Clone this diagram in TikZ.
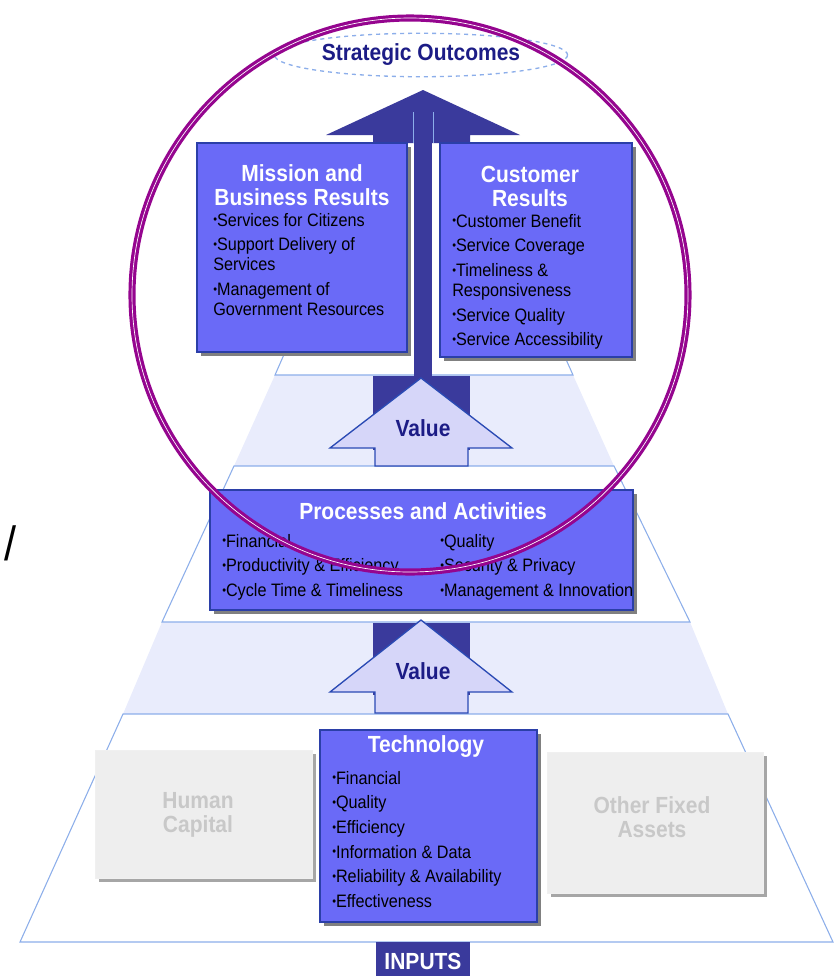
\documentclass[tikz,border=0pt]{standalone}
\usepackage{fontspec}
\setmainfont{Liberation Sans}[FakeStretch = 0.9]
\usetikzlibrary{positioning,fit,shapes.geometric,shadows}

\definecolor{boxblue}{HTML}{6A6AF7}
\definecolor{boxedge}{HTML}{2B3FA8}
\definecolor{darkarrow}{HTML}{3A3A9C}
\definecolor{valuefill}{HTML}{D6D6F9}
\definecolor{valueedge}{HTML}{2A4AB4}
\definecolor{bandline}{HTML}{8CAEEA}
\definecolor{bandshade}{HTML}{E9ECFC}
\definecolor{ringpurple}{HTML}{95058F}
\definecolor{navytext}{HTML}{1C1C86}
\definecolor{assetgrey}{HTML}{EEEEEE}
\definecolor{greytext}{HTML}{C8C8C8}

\newcommand{\bul}{\raisebox{0.25ex}{\fontsize{9}{9}\selectfont •}}

\tikzset{
  resultbox/.style = {fill = boxblue, draw = boxedge, line width = 1pt, inner sep = 0pt,
    drop shadow = {shadow xshift = 3pt, shadow yshift = -3pt, fill = black!50, opacity = 1}},
  assetbox/.style = {fill = assetgrey, draw = black!6, inner sep = 0pt,
    drop shadow = {shadow xshift = 3pt, shadow yshift = -3pt, fill = black!35, opacity = 1}},
  boxtitle/.style = {text = white, font = \bfseries\fontsize{17.5}{18}\selectfont, align = center, inner sep = 0pt},
  assettitle/.style = {text = greytext, font = \bfseries\fontsize{17.5}{18.5}\selectfont, align = center, inner sep = 0pt},
  itemlist/.style = {text = black, font = \fontsize{13.5}{15}\selectfont, align = left, anchor = north west, inner sep = 0pt},
  band/.style = {fill = white, draw = bandline, line width = 0.8pt},
  shadeband/.style = {fill = bandshade},
  darkpart/.style = {fill = darkarrow},
  valuearrow/.style = {fill = valuefill, draw = valueedge, line width = 1pt},
  valuetext/.style = {text = navytext, font = \bfseries\fontsize{17.5}{18}\selectfont, inner sep = 0pt},
  ring/.style = {draw = ringpurple, line width = 2.4pt, double = white, double distance = 0.5pt}
}

\begin{document}
\begin{tikzpicture}[x = 0.75pt, y = -0.75pt]
\useasboundingbox (0,0) rectangle (834,976);

\fill[shadeband] (275,375) -- (573,375) -- (614,466) -- (234,466) -- cycle;
\fill[shadeband] (162,622) -- (690,622) -- (728,714) -- (123,714) -- cycle;
\draw[band] (376,145) -- (275,375) -- (573,375) -- (470,145);
\draw[band] (234,466) -- (614,466) -- (690,622) -- (162,622) -- cycle;
\draw[band] (123,714) -- (728,714) -- (833,942) -- (20,942) -- cycle;

\fill[darkpart] (423,90) -- (520,135) -- (470,135) -- (470,143) -- (373,143) -- (373,135) -- (326,135) -- cycle;
\fill[darkpart] (373,376) rectangle (470,450);
\fill[darkpart] (373,623) rectangle (470,695);
\fill[darkpart] (414,110) rectangle (432,382);
\draw[bandline, line width = 0.6pt] (413,112) -- (413,143) (433,112) -- (433,143);

\draw[valuearrow] (421,378) -- (512,448) -- (468,448) -- (468,466) -- (375,466) -- (375,448) -- (330,448) -- cycle;
\draw[valuearrow] (421,620) -- (512,692) -- (468,692) -- (468,713) -- (375,713) -- (375,692) -- (330,692) -- cycle;
\node[valuetext] (value1) at (423,428) {Value};
\node[valuetext] (value2) at (423,671) {Value};

\node[ellipse, draw = bandline, dashed, line width = 1pt, fill = white, minimum width = 174pt, minimum height = 31pt,
  font = \bfseries\fontsize{17.5}{18}\selectfont, text = navytext] (outcomes) at (421,55) {Strategic Outcomes};

\node[resultbox, fit = {(197,143) (407,352)}] (mission) {};
\node[boxtitle] (missiontitle) at (302,185) {Mission and\\Business Results};
\node[itemlist] (missionitems) at (213,213) {\bul Services for Citizens\\[3.5pt]\bul Support Delivery of\\Services\\[3.5pt]\bul Management of\\Government Resources};

\node[resultbox, fit = {(440,143) (632,357)}] (customer) {};
\node[boxtitle] (customertitle) at (530,186) {Customer\\Results};
\node[itemlist] (customeritems) at (452,214) {\bul Customer Benefit\\[3.5pt]\bul Service Coverage\\[3.5pt]\bul Timeliness \&\\Responsiveness\\[3.5pt]\bul Service Quality\\[3.5pt]\bul Service Accessibility};

\node[resultbox, fit = {(210,490) (633,610)}] (processes) {};
\node[boxtitle] (processestitle) at (423,511) {Processes and Activities};
\node[itemlist] (processesleft) at (222,534) {\bul Financial\\[3.5pt]\bul Productivity \& Efficiency\\[3.5pt]\bul Cycle Time \& Timeliness};
\node[itemlist] (processesright) at (440,534) {\bul Quality\\[3.5pt]\bul Security \& Privacy\\[3.5pt]\bul Management \& Innovation};

\node[assetbox, fit = {(95,750) (312,878)}] (human) {};
\node[assettitle] (humantitle) at (198,815) {Human\\Capital};
\node[assetbox, fit = {(547,752) (763,893)}] (fixed) {};
\node[assettitle] (fixedtitle) at (652,817) {Other Fixed\\Assets};

\node[resultbox, fit = {(320,730) (537,922)}] (technology) {};
\node[boxtitle] (technologytitle) at (426,747) {Technology};
\node[itemlist] (technologyitems) at (332,771) {\bul Financial\\[3.5pt]\bul Quality\\[3.5pt]\bul Efficiency\\[3.5pt]\bul Information \& Data\\[3.5pt]\bul Reliability \& Availability\\[3.5pt]\bul Effectiveness};

\node[fill = darkarrow, inner sep = 0pt, minimum width = 71pt, minimum height = 28pt,
  text = white, font = \bfseries\fontsize{17.5}{18}\selectfont] (inputs) at (423,961) {INPUTS};

\draw[ring] (410,295) ellipse [x radius = 278, y radius = 277];

\node[font = \fontsize{36}{36}\selectfont, inner sep = 0pt] (slash) at (11,543) {/};
\end{tikzpicture}
\end{document}
